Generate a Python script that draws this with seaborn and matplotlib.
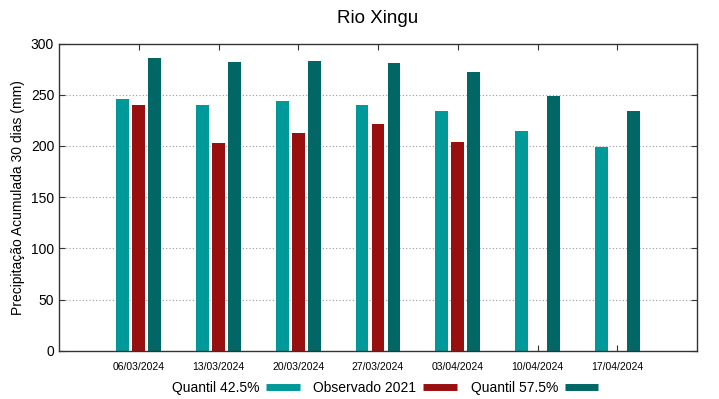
import numpy as np
import pandas as pd
import matplotlib
matplotlib.use("Agg")
import matplotlib.pyplot as plt
from matplotlib.lines import Line2D
import seaborn as sns

dates = ["06/03/2024", "13/03/2024", "20/03/2024", "27/03/2024",
         "03/04/2024", "10/04/2024", "17/04/2024"]
q425 = [245.5, 240, 244, 239.5, 234, 214.5, 199]
obs2021 = [240, 202.5, 212.5, 221, 204, np.nan, np.nan]
q575 = [286, 281.5, 282.5, 280.5, 272.5, 248.5, 234]
series_names = ["Quantil 42.5%", "Observado 2021", "Quantil 57.5%"]
colors = ["#009999", "#990f0f", "#006666"]

rows = []
for name, vals in zip(series_names, [q425, obs2021, q575]):
    for d, v in zip(dates, vals):
        rows.append({"date": d, "serie": name, "valor": v})
df = pd.DataFrame(rows)

sns.set_style("white")
plt.rcParams['font.family'] = ['Liberation Sans', 'DejaVu Sans']
plt.rcParams['text.color'] = 'black'
plt.rcParams['axes.labelcolor'] = 'black'
plt.rcParams['xtick.color'] = 'black'
plt.rcParams['ytick.color'] = 'black'

fig = plt.figure(figsize=(7.19, 3.99), dpi=100)
ax = fig.add_axes([59/719, 1-350.7/399, (697-59)/719, (350.7-43.5)/399])

sns.barplot(data=df, x="date", y="valor", hue="serie", order=dates,
            hue_order=series_names, palette=colors, width=0.6, gap=0.2,
            errorbar=None, saturation=1, legend=False, ax=ax, linewidth=0)

ax.set_xlim(-1, 7)
ax.set_ylim(0, 300)
ax.set_yticks([0, 50, 100, 150, 200, 250, 300])
ax.set_title("Rio Xingu", fontsize=13.5, pad=15, color="black")
ax.set_xlabel("")
ax.set_ylabel("Precipitação Acumulada 30 dias (mm)", fontsize=10, color="black")
for sp in ax.spines.values():
    sp.set_visible(True)
    sp.set_color("#333333")
    sp.set_linewidth(1)
for y in [50, 100, 150, 200, 250]:
    ax.axhline(y, color="#999999", linestyle=(0, (1, 2)), linewidth=0.8, zorder=0)
ax.tick_params(axis="x", direction="in", top=True, bottom=True, length=4,
               labelsize=7.5, pad=8, color="#333333", labelcolor="black")
ax.tick_params(axis="y", direction="in", left=True, right=True, length=4,
               labelsize=10, color="#333333", labelcolor="black")

handles = [Line2D([0], [0], color=c, lw=5, solid_capstyle="butt") for c in colors]
fig.legend(handles, series_names, loc="center", bbox_to_anchor=(385/719, 1-388/399),
           ncol=3, frameon=False, fontsize=10, markerfirst=False,
           handlelength=2.4, columnspacing=1.0, handletextpad=0.5,
           labelcolor="black")

fig.savefig("out.png", dpi=100)
